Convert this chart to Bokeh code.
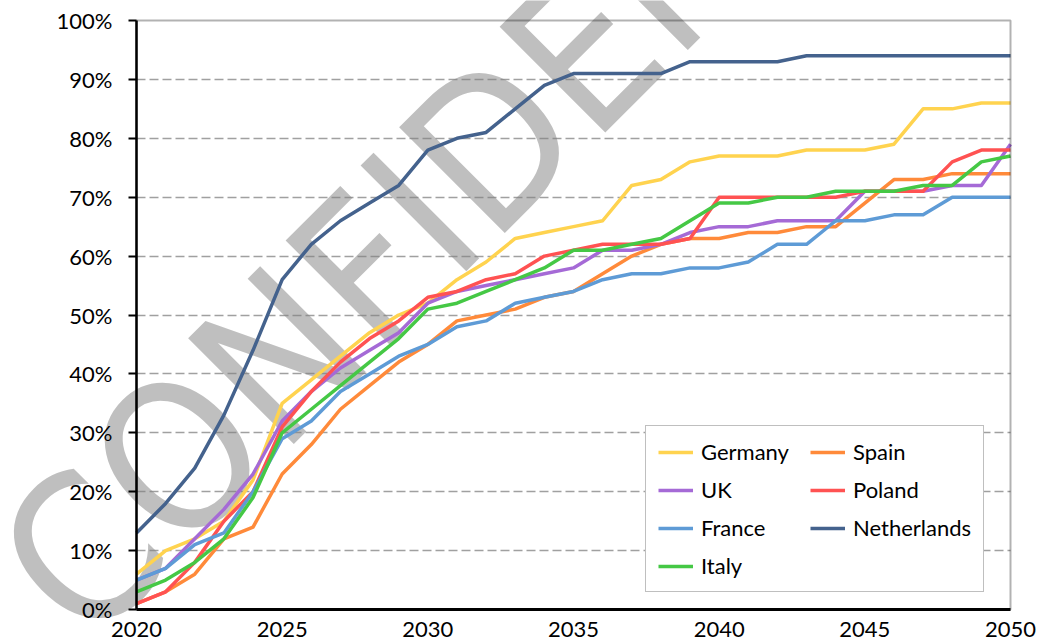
from bokeh.plotting import figure
from bokeh.models import (Range1d, Legend, LegendItem, LinearAxis, Label, Grid,
                          BoxAnnotation, SingleIntervalTicker, PrintfTickFormatter)
from bokeh.embed import file_html
from bokeh.resources import INLINE

# ---------------- data ----------------
years = list(range(2020, 2051))

germany = [6, 10, 12, 15, 22, 35, 39, 43, 47, 50, 52, 56, 59, 63, 64, 65, 66, 72, 73, 76,
           77, 77, 77, 78, 78, 78, 79, 85, 85, 86, 86]
spain = [1, 3, 6, 12, 14, 23, 28, 34, 38, 42, 45, 49, 50, 51, 53, 54, 57, 60, 62, 63,
         63, 64, 64, 65, 65, 69, 73, 73, 74, 74, 74]
uk = [5, 7, 12, 17, 23, 32, 37, 41, 44, 47, 52, 54, 55, 56, 57, 58, 61, 61, 62, 64,
      65, 65, 66, 66, 66, 71, 71, 71, 72, 72, 79]
poland = [1, 3, 8, 15, 20, 31, 37, 42, 46, 49, 53, 54, 56, 57, 60, 61, 62, 62, 62, 63,
          70, 70, 70, 70, 70, 71, 71, 71, 76, 78, 78]
france = [5, 7, 11, 13, 20, 29, 32, 37, 40, 43, 45, 48, 49, 52, 53, 54, 56, 57, 57, 58,
          58, 59, 62, 62, 66, 66, 67, 67, 70, 70, 70]
netherlands = [13, 18, 24, 33, 44, 56, 62, 66, 69, 72, 78, 80, 81, 85, 89, 91, 91, 91, 91, 93,
               93, 93, 93, 94, 94, 94, 94, 94, 94, 94, 94]
italy = [3, 5, 8, 12, 19, 30, 34, 38, 42, 46, 51, 52, 54, 56, 58, 61, 61, 62, 63, 66,
         69, 69, 70, 70, 71, 71, 71, 72, 72, 76, 77]

series_names = ["Germany", "Spain", "UK", "Poland", "France", "Netherlands", "Italy"]
series_values = [germany, spain, uk, poland, france, netherlands, italy]
series_colors = ["#FFD34F", "#FF8A3A", "#A56AD6", "#FF5252", "#5E9BD6", "#44628D", "#45C845"]

legend_order = ["Germany", "UK", "France", "Italy", "Spain", "Poland", "Netherlands"]

x_start, x_end = 2020, 2050
y_start, y_end = 0, 100

watermark_text = "CONFIDENTIAL"

FONT = "Lato"

# ---------------- figure ----------------
# The frame covers the whole canvas (so the watermark is not clipped); the
# ranges are padded so that the 2020-2050 / 0-100% area sits where the
# reference plot area is.  Axes are fixed-location axes bounded to the data area.
W, H = 1037, 644
PL, PR, PT, PB = 136, 1010, 20, 609          # plot-area pixel box
xs = (x_end - x_start) / (PR - PL)
ys = (y_end - y_start) / (PB - PT)
x_range = Range1d(x_start - PL * xs, x_end + (W - PR) * xs)
y_range = Range1d(y_start - (H - PB) * ys, y_end + PT * ys)

p = figure(width=W, height=H, output_backend="svg", toolbar_location=None,
           x_range=x_range, y_range=y_range,
           x_axis_location=None, y_axis_location=None,
           min_border_left=0, min_border_right=0, min_border_top=0,
           min_border_bottom=0)

p.background_fill_color = "white"
p.border_fill_color = "white"
p.outline_line_color = None
p.xgrid.visible = False
p.ygrid.visible = False

# horizontal dashed grid, inside the plot area only
ygrid = Grid(dimension=1, ticker=SingleIntervalTicker(interval=10, num_minor_ticks=0),
             bounds=(10, 90), cross_bounds=(x_start, x_end),
             grid_line_color="#a0a0a0", grid_line_dash="9 4", grid_line_width=1.5)
p.add_layout(ygrid)

# watermark, under the lines and axes
wm = Label(x=2033.15, y=83.5, text=watermark_text, angle=45, angle_units="deg",
           text_font="DejaVu Sans Condensed", text_font_size="205px",
           text_color="#808080", text_alpha=0.5, text_align="center",
           text_baseline="middle", level="underlay")
p.add_layout(wm)

# plot-area border (top / right edges)
frame_box = BoxAnnotation(left=x_start, right=x_end, bottom=y_start, top=y_end,
                          fill_color=None, line_color="black", line_width=2)
p.add_layout(frame_box)

# x axis
xaxis = LinearAxis(fixed_location=y_start, bounds=(x_start, x_end),
                   ticker=SingleIntervalTicker(interval=5, num_minor_ticks=0),
                   major_tick_out=0, major_tick_in=0,
                   minor_tick_out=0, minor_tick_in=0,
                   axis_line_width=3, axis_line_color="black",
                   major_label_standoff=12,
                   major_label_text_font=FONT, major_label_text_font_size="22px",
                   major_label_text_color="black")
p.add_layout(xaxis, "below")

# y axis
yaxis = LinearAxis(fixed_location=x_start, bounds=(y_start, y_end),
                   ticker=SingleIntervalTicker(interval=10, num_minor_ticks=0),
                   formatter=PrintfTickFormatter(format="%d%%"),
                   major_tick_out=8, major_tick_in=0,
                   minor_tick_out=0, minor_tick_in=0,
                   major_tick_line_width=2, major_tick_line_color="black",
                   axis_line_width=2.5, axis_line_color="black",
                   major_label_standoff=16,
                   major_label_text_font=FONT, major_label_text_font_size="22px",
                   major_label_text_color="black")
p.add_layout(yaxis, "left")

# lines
renderers = {}
for name, vals, col in zip(series_names, series_values, series_colors):
    r = p.line(years, vals, line_color=col, line_width=3.5, line_join="round")
    renderers[name] = r

items = [LegendItem(label=n, renderers=[renderers[n]]) for n in legend_order]
legend = Legend(items=items, location=(645, H - 592), ncols=2,
                label_text_font=FONT, label_text_font_size="22px",
                label_text_color="black",
                glyph_width=35, glyph_height=20, label_standoff=8,
                label_width=98,
                spacing=11, padding=12, margin=0,
                border_line_color="#7f7f7f", border_line_width=1.5,
                background_fill_color="white", background_fill_alpha=1.0)
p.add_layout(legend)

open("out.html", "w").write(file_html(p, INLINE))
